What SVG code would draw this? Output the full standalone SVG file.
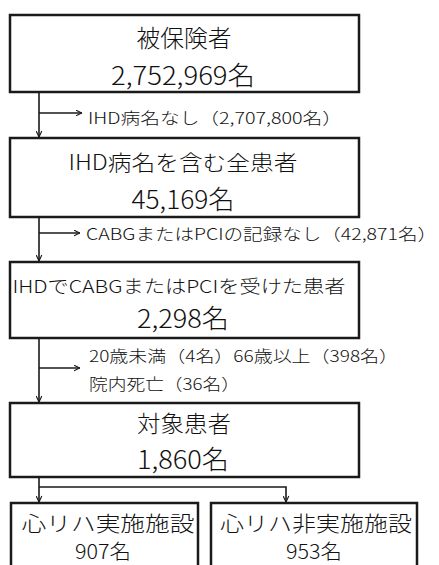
<svg xmlns="http://www.w3.org/2000/svg" width="439" height="565" viewBox="0 0 439 565">
<defs>
<style>
.box{fill:#fff;stroke:#1a1a1a;stroke-width:2.5}
.t{font-family:"Noto Sans CJK JP","Noto Sans",sans-serif;font-weight:300;fill:#111;text-anchor:middle;dominant-baseline:central}
.l{font-family:"Noto Sans CJK JP","Noto Sans",sans-serif;font-weight:300;fill:#111;font-size:16px;dominant-baseline:central}
.c{fill:none;stroke:#1a1a1a;stroke-width:1.6}
</style>
<marker id="ah" viewBox="0 0 10 10" refX="9.5" refY="5" markerWidth="7" markerHeight="7" markerUnits="userSpaceOnUse" orient="auto"><path d="M1,1 L9.5,5 L1,9" fill="none" stroke="#1a1a1a" stroke-width="1.6"/></marker>
</defs>
<rect width="439" height="565" fill="#fff"/>
<g id="n1"><rect class="box" x="10" y="15" width="349" height="77"/>
<text class="t" x="184" y="36" font-size="24" textLength="95" lengthAdjust="spacingAndGlyphs">被保険者</text>
<text class="t" x="183" y="73" font-size="26" textLength="144" lengthAdjust="spacingAndGlyphs">2,752,969名</text></g>
<g id="n2"><rect class="box" x="10" y="138" width="349" height="79"/>
<text class="t" x="183" y="161" font-size="21" textLength="229" lengthAdjust="spacingAndGlyphs">IHD病名を含む全患者</text>
<text class="t" x="183" y="197" font-size="26" textLength="103" lengthAdjust="spacingAndGlyphs">45,169名</text></g>
<g id="n3"><rect class="box" x="10" y="262" width="349" height="76"/>
<text class="t" x="179" y="285" font-size="18" textLength="333" lengthAdjust="spacingAndGlyphs">IHDでCABGまたはPCIを受けた患者</text>
<text class="t" x="183" y="316" font-size="26" textLength="92" lengthAdjust="spacingAndGlyphs">2,298名</text></g>
<g id="n4"><rect class="box" x="10" y="403" width="349" height="74"/>
<text class="t" x="184" y="422" font-size="23" textLength="94" lengthAdjust="spacingAndGlyphs">対象患者</text>
<text class="t" x="183" y="457" font-size="26" textLength="92" lengthAdjust="spacingAndGlyphs">1,860名</text></g>
<g id="n5"><rect class="box" x="11" y="503" width="187" height="70"/>
<text class="t" x="108" y="522" font-size="21" textLength="173" lengthAdjust="spacingAndGlyphs">心リハ実施施設</text>
<text class="t" x="103" y="550" font-size="20" textLength="56" lengthAdjust="spacingAndGlyphs">907名</text></g>
<g id="n6"><rect class="box" x="211" y="503" width="206" height="70"/>
<text class="t" x="316" y="522" font-size="21" textLength="192" lengthAdjust="spacingAndGlyphs">心リハ非実施施設</text>
<text class="t" x="314" y="550" font-size="20" textLength="56" lengthAdjust="spacingAndGlyphs">953名</text></g>
<g id="connectors">
<path class="c" d="M39,92 V137" marker-end="url(#ah)"/>
<path class="c" d="M39,113 H82" marker-end="url(#ah)"/>
<path class="c" d="M39,217 V261" marker-end="url(#ah)"/>
<path class="c" d="M39,233 H80" marker-end="url(#ah)"/>
<path class="c" d="M39,338 V402" marker-end="url(#ah)"/>
<path class="c" d="M39,368 H80" marker-end="url(#ah)"/>
<path class="c" d="M39,477 V502" marker-end="url(#ah)"/>
<path class="c" d="M39,487 H286 V502" marker-end="url(#ah)"/>
</g>
<g id="labels">
<text class="l" x="88" y="117" textLength="254" lengthAdjust="spacingAndGlyphs">IHD病名なし（2,707,800名）</text>
<text class="l" x="86" y="233" textLength="351" lengthAdjust="spacingAndGlyphs">CABGまたはPCIの記録なし（42,871名）</text>
<text class="l" x="89" y="355" textLength="309" lengthAdjust="spacingAndGlyphs">20歳未満（4名）66歳以上（398名）</text>
<text class="l" x="89" y="383" textLength="151" lengthAdjust="spacingAndGlyphs">院内死亡（36名）</text>
</g>
</svg>
